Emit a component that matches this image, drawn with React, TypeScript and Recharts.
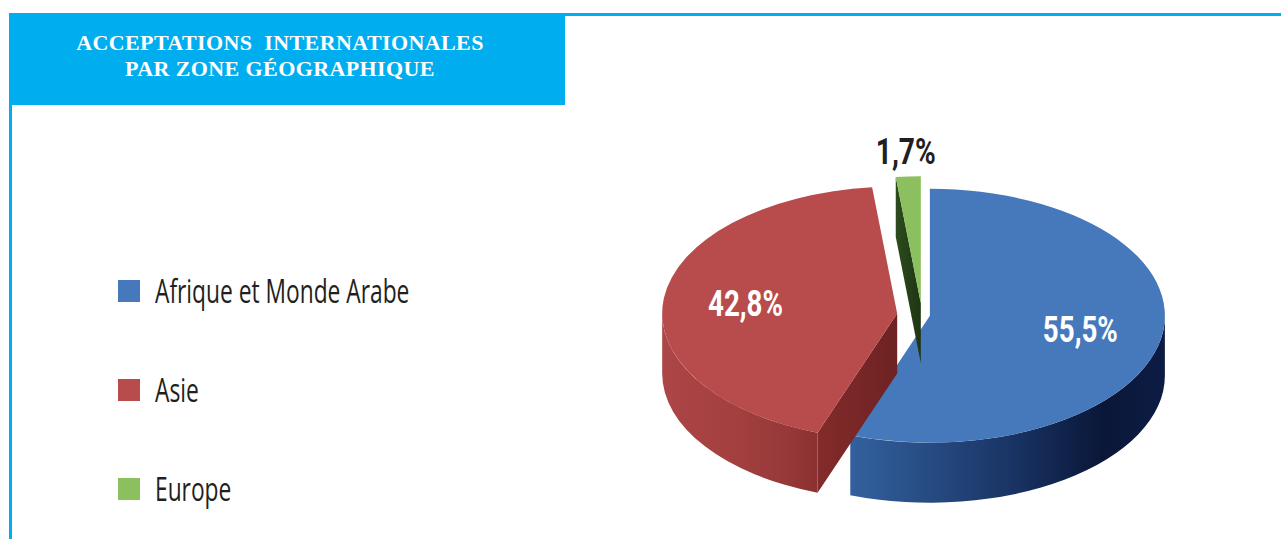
import React from 'react'
import { PieChart, Pie, Cell, Legend } from 'recharts'

// zones + shares
const zones = ['Afrique et Monde Arabe', 'Asie', 'Europe']
const shares = [55.5, 42.8, 1.7]
const shareLabels = ['55,5%', '42,8%', '1,7%']

const topColors = ['#4678bc', '#b84b4b', '#8cbf5e']
const wallStops = [
    ['#33619e', '#1a3566', '#0a1738', '#0d1c44'],
    ['#ad4646', '#a23f3f', '#973838', '#8b3030'],
    ['#3a5e27', '#2f4e1f', '#27421a', '#213816'],
]
const faceStops = [
    ['#2b4f85', '#1a3566'],
    ['#832b2b', '#6e2222'],
    ['#2d4c1d', '#1e3513'],
]
const explode = [8, 25, 22]

const data = zones.map((name, i) => ({ name, value: shares[i] }))

const CX = 922
const CY = 315
const R = 235
const K = 0.54
const DEPTH = 60
const RAD = Math.PI / 180

function Slice3D(props: any) {
    const { cx, cy, outerRadius, startAngle, endAngle } = props
    const name = props.payload?.name ?? props.name
    const i = Math.max(0, zones.indexOf(name))
    const hi = Math.max(startAngle, endAngle)
    const lo = Math.min(startAngle, endAngle)
    const mid = (hi + lo) / 2
    const ox = cx + explode[i] * Math.cos(mid * RAD)
    const oy = cy - explode[i] * Math.sin(mid * RAD) * K
    const ry = outerRadius * K
    const p = (a: number, d = 0) =>
        `${ox + outerRadius * Math.cos(a * RAD)},${oy - ry * Math.sin(a * RAD) + d}`

    const large = hi - lo > 180 ? 1 : 0
    const top = `M${ox},${oy} L${p(hi)} A${outerRadius},${ry} 0 ${large} 1 ${p(lo)} Z`

    // front-facing part of the rim
    const walls: string[] = []
    for (const off of [-360, 0, 360]) {
        const b1 = Math.min(hi, off)
        const b2 = Math.max(lo, -180 + off)
        if (b1 - b2 > 0.01) {
            walls.push(
                `M${p(b1)} A${outerRadius},${ry} 0 0 1 ${p(b2)} L${p(b2, DEPTH)} A${outerRadius},${ry} 0 0 0 ${p(b1, DEPTH)} Z`
            )
        }
    }

    // cut faces
    const faces: string[] = []
    if (Math.cos(hi * RAD) < -0.01) faces.push(`M${ox},${oy} L${p(hi)} L${p(hi, DEPTH)} L${ox},${oy + DEPTH} Z`)
    if (Math.cos(lo * RAD) > 0.01) faces.push(`M${ox},${oy} L${p(lo)} L${p(lo, DEPTH)} L${ox},${oy + DEPTH} Z`)

    return (
        <g>
            <defs>
                <linearGradient id={`wall-${i}`} x1='0' y1='0' x2='1' y2='0'>
                    <stop offset='0%' stopColor={wallStops[i][0]} />
                    <stop offset='50%' stopColor={wallStops[i][1]} />
                    <stop offset='80%' stopColor={wallStops[i][2]} />
                    <stop offset='100%' stopColor={wallStops[i][3]} />
                </linearGradient>
                <linearGradient id={`face-${i}`} x1='0' y1='0' x2='1' y2='0'>
                    <stop offset='0%' stopColor={faceStops[i][0]} />
                    <stop offset='100%' stopColor={faceStops[i][1]} />
                </linearGradient>
            </defs>
            {faces.map((d, j) => <path key={'f' + j} d={d} fill={`url(#face-${i})`} />)}
            {walls.map((d, j) => <path key={'w' + j} d={d} fill={`url(#wall-${i})`} />)}
            <path d={top} fill={topColors[i]} />
        </g>
    )
}

const renderLabel = (props: any) => {
    const { cx, cy, midAngle, outerRadius, index } = props
    const outside = shares[index] < 5
    const r = outerRadius * (outside ? 1.2 : 0.65) + explode[index]
    const x = cx + r * Math.cos(midAngle * RAD)
    const y = cy - r * Math.sin(midAngle * RAD) * K
    const txt = shareLabels[index]
    return (
        <text
            x={x}
            y={y}
            textAnchor='middle'
            dominantBaseline='central'
            fill={outside ? '#231f20' : '#ffffff'}
            fontFamily="'Liberation Sans Narrow', Roboto, 'Liberation Sans', sans-serif"
            fontWeight='bold'
            fontSize={37}
            textLength={txt.length * 15}
            lengthAdjust='spacingAndGlyphs'
        >
            {txt}
        </text>
    )
}

const renderLegend = (props: any) => (
    <div>
        {(props.payload || []).map((entry: any, i: number) => (
            <div key={i} style={{ display: 'flex', alignItems: 'center', height: 99 }}>
                <span style={{ display: 'inline-block', width: 22, height: 22, background: topColors[i], marginRight: 15, flex: 'none' }} />
                <span
                    style={{
                        display: 'inline-block',
                        fontFamily: "'Open Sans', sans-serif",
                        fontSize: 33,
                        lineHeight: '33px',
                        color: '#231f20',
                        whiteSpace: 'nowrap',
                        transform: 'scaleX(0.69)',
                        transformOrigin: 'left center',
                    }}
                >
                    {entry.value}
                </span>
            </div>
        ))}
    </div>
)

export default function App() {
    return (
        <div style={{ position: 'relative', width: 1281, height: 539, background: '#fff', overflow: 'hidden' }}>
            <style>{'body{margin:0}'}</style>
            {/* frame */}
            <div style={{ position: 'absolute', left: 565, top: 13, width: 716, height: 3, background: '#00aeef' }} />
            <div style={{ position: 'absolute', left: 9, top: 105, width: 3, height: 434, background: '#00aeef' }} />
            <div style={{ position: 'absolute', left: 9, top: 13, width: 556, height: 92, background: '#00aeef' }} />
            <div
                style={{
                    position: 'absolute',
                    left: 9,
                    top: 30,
                    width: 542,
                    paddingRight: 14,
                    textAlign: 'center',
                    color: '#fff',
                    fontFamily: "'Liberation Serif', serif",
                    fontWeight: 'bold',
                    fontSize: 22,
                    lineHeight: '26px',
                    letterSpacing: 0.4,
                }}
            >
                ACCEPTATIONS&nbsp; INTERNATIONALES
                <br />
                PAR ZONE GÉOGRAPHIQUE
            </div>
            <div style={{ position: 'absolute', left: 0, top: 0 }}>
                <PieChart width={1281} height={539} margin={{ top: 0, right: 0, bottom: 0, left: 0 }}>
                    <Pie
                        data={data}
                        dataKey='value'
                        nameKey='name'
                        cx={CX}
                        cy={CY}
                        outerRadius={R}
                        startAngle={90}
                        endAngle={-270}
                        stroke='none'
                        shape={Slice3D}
                        label={renderLabel}
                        labelLine={false}
                        isAnimationActive={false}
                    >
                        {data.map((d, i) => (
                            <Cell key={d.name} fill={topColors[i]} />
                        ))}
                    </Pie>
                    <Legend
                        layout='vertical'
                        align='center'
                        verticalAlign='middle'
                        content={renderLegend}
                        wrapperStyle={{ position: 'absolute', left: 118, top: 241, width: 330 }}
                    />
                </PieChart>
            </div>
        </div>
    )
}
